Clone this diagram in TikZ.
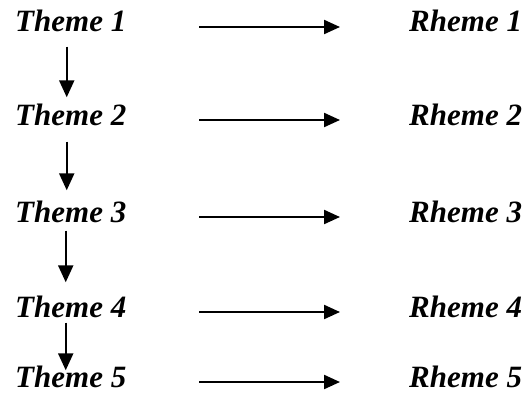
\documentclass[tikz,border=0pt]{standalone}
\usepackage{fontspec}
\setmainfont{Liberation Serif}
\usetikzlibrary{arrows.meta}
\begin{document}
\begin{tikzpicture}[x=1pt,y=-1pt,
  lbl/.style={inner sep=0pt,font=\fontsize{31}{32}\selectfont\bfseries\itshape},
  harrow/.style={line width=2.2pt,-{Triangle[length=16pt,width=14pt]}},
  varrow/.style={line width=2.2pt,-{Triangle[length=17pt,width=15pt]}}]
\useasboundingbox (0,0) rectangle (529,396);
% theme column and rheme column, one row per pair
\foreach \i/\y in {1/32,2/125,3/222,4/317,5/387}{
  \node[lbl,anchor=base west] (t\i) at (15,\y) {Theme \i};
  \node[lbl,anchor=base west] (r\i) at (409,\y) {Rheme \i};
  \draw[harrow,shorten <=73pt,shorten >=69pt]
    ([yshift=5pt]t\i.base east) -- ([yshift=5pt]r\i.base west);
}
% theme progression arrows
\draw[varrow,shorten <=14pt,shorten >=6pt] ([xshift=-4pt]t1.south) -- ([xshift=-4pt]t2.north);
\draw[varrow,shorten <=16pt,shorten >=10pt] ([xshift=-4pt]t2.south) -- ([xshift=-4pt]t3.north);
\draw[varrow,shorten <=8pt,shorten >=13pt] ([xshift=-5pt]t3.south) -- ([xshift=-5pt]t4.north);
\draw[varrow,shorten <=5pt,shorten >=-5pt] ([xshift=-5pt]t4.south) -- ([xshift=-5pt]t5.north);
\end{tikzpicture}
\end{document}
